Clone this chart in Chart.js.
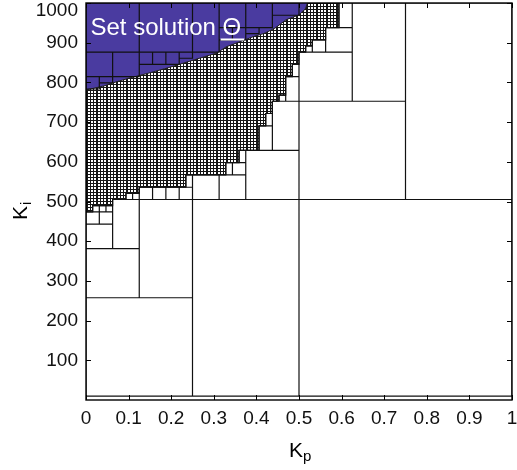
<!DOCTYPE html>
<html>
<head>
<meta charset="utf-8">
<script src="https://cdn.jsdelivr.net/npm/chart.js@4"></script>
<style>
  html, body { margin: 0; padding: 0; background: #fff; }
  canvas { display: block; }
</style>
</head>
<body>
<canvas id="chart" width="517" height="470"></canvas>
<script>
// axis ticks
const kpTicks = [0, 0.1, 0.2, 0.3, 0.4, 0.5, 0.6, 0.7, 0.8, 0.9, 1];
const kiTicks = [100, 200, 300, 400, 500, 600, 700, 800, 900, 1000];

const kpTitle = ['K', 'p'];
const kiTitle = ['K', 'i'];
const setText = 'Set solution ';
const setSymbol = 'Θ';

// boxes of the paving outside the solution set: [kp0, kp1, ki0, ki1]
const outsideBoxes = [
  [0.5, 1, 10, 505],
  [0.25, 0.5, 10, 505],
  [0, 0.25, 10, 257.5],
  [0.125, 0.25, 257.5, 505],
  [0, 0.125, 257.5, 381.25],
  [0.0625, 0.125, 381.25, 505],
  [0, 0.0625, 381.25, 443.1],
  [0, 0.03125, 443.1, 474.1],
  [0.03125, 0.0625, 443.1, 474.1],
  [0.015625, 0.03125, 474.1, 489.5],
  [0.03125, 0.046875, 474.1, 489.5],
  [0.046875, 0.0625, 474.1, 489.5],
  [0.09375, 0.109375, 505, 520.5],
  [0.109375, 0.125, 505, 520.5],
  [0.125, 0.15625, 505, 535.9],
  [0.15625, 0.1875, 505, 535.9],
  [0.1875, 0.21875, 505, 535.9],
  [0.21875, 0.25, 505, 535.9],
  [0.234375, 0.25, 535.9, 566.9],
  [0.25, 0.3125, 505, 566.9],
  [0.3125, 0.375, 505, 566.9],
  [0.328125, 0.34375, 566.9, 597.8],
  [0.34375, 0.375, 566.9, 597.8],
  [0.359375, 0.375, 597.8, 628.75],
  [0.375, 0.5, 505, 628.75],
  [0.40625, 0.4375, 628.75, 690.6],
  [0.4375, 0.5, 628.75, 752.5],
  [0.421875, 0.4375, 690.6, 721.6],
  [0.453125, 0.46875, 752.5, 768],
  [0.46875, 0.5, 752.5, 814.4],
  [0.484375, 0.5, 814.4, 845.3],
  [0.5, 0.75, 505, 752.5],
  [0.75, 1, 505, 1000],
  [0.625, 0.75, 752.5, 1000],
  [0.5, 0.625, 752.5, 876.25],
  [0.515625, 0.53125, 876.25, 891.7],
  [0.53125, 0.5625, 876.25, 907.2],
  [0.5625, 0.625, 876.25, 938.1],
  [0.59375, 0.625, 938.1, 1000]
];

// boxes inside the solution set
const solutionBoxes = [
  [0, 0.125, 876.25, 1000],
  [0.125, 0.25, 876.25, 1000],
  [0.25, 0.3125, 876.25, 1000],
  [0.3125, 0.375, 938.1, 1000],
  [0.375, 0.4375, 938.1, 1000],
  [0.4375, 0.5, 969.1, 1000],
  [0.3125, 0.34375, 907.2, 938.1],
  [0.34375, 0.375, 907.2, 938.1],
  [0.375, 0.40625, 922.7, 938.1],
  [0, 0.0625, 814.4, 876.25],
  [0.0625, 0.125, 814.4, 876.25],
  [0.125, 0.15625, 845.3, 876.25],
  [0.15625, 0.1875, 845.3, 876.25],
  [0.1875, 0.21875, 845.3, 876.25],
  [0.21875, 0.25, 860.8, 876.25],
  [0, 0.03125, 783.4, 814.4],
  [0.03125, 0.0625, 798.9, 814.4]
];

// lower edge of the solution set [kp, ki]
const solutionEdge = [
  [0, 781], [0.042, 791], [0.073, 802], [0.113, 814], [0.153, 825],
  [0.19, 836], [0.23, 849], [0.27, 862], [0.307, 874], [0.33, 890],
  [0.373, 907], [0.392, 915], [0.42, 924], [0.444, 937], [0.47, 958],
  [0.5, 970], [0.515, 985], [0.52, 1000]
];

// lower / right edge of the undetermined (fine) boxes [kp, ki]
const boundaryEdge = [
  [0, 474.1], [0.015625, 474.1], [0.015625, 489.5], [0.0625, 489.5],
  [0.0625, 505], [0.09375, 505], [0.09375, 520.5], [0.125, 520.5],
  [0.125, 535.9], [0.234375, 535.9], [0.234375, 566.9], [0.328125, 566.9],
  [0.328125, 597.8], [0.359375, 597.8], [0.359375, 628.75], [0.40625, 628.75],
  [0.40625, 690.6], [0.421875, 690.6], [0.421875, 721.6], [0.4375, 721.6],
  [0.4375, 752.5], [0.453125, 752.5], [0.453125, 768], [0.46875, 768],
  [0.46875, 814.4], [0.484375, 814.4], [0.484375, 845.3], [0.5, 845.3],
  [0.5, 876.25], [0.515625, 876.25], [0.515625, 891.7], [0.53125, 891.7],
  [0.53125, 907.2], [0.5625, 907.2], [0.5625, 938.1], [0.59375, 938.1],
  [0.59375, 1000]
];

const BLUE = '#4a3ba0';

// fine mesh look for the undetermined boxes
function meshPattern() {
  const c = document.createElement('canvas');
  c.width = 10; c.height = 9;
  const g = c.getContext('2d');
  g.fillStyle = '#fff';
  g.fillRect(0, 0, 10, 9);
  g.fillStyle = '#151515';
  [0, 3, 6, 7].forEach(x => g.fillRect(x, 0, 1, 9));
  [0, 3, 6].forEach(y => g.fillRect(0, y, 10, 1));
  return g.createPattern(c, 'repeat');
}

const outline = [];
outsideBoxes.concat(solutionBoxes).forEach(([a, b, c, d]) => {
  outline.push({x: a, y: c}, {x: b, y: c}, {x: b, y: d}, {x: a, y: d}, {x: a, y: c}, {x: a, y: null});
});

const toPts = arr => arr.map(([x, y]) => ({x, y}));

const framePlugin = {
  id: 'frame',
  afterDraw(chart) {
    const {ctx, chartArea: a, scales: {x, y}} = chart;
    ctx.save();
    ctx.strokeStyle = '#000';
    ctx.lineWidth = 1.4;
    ctx.strokeRect(a.left, a.top, a.right - a.left, a.bottom - a.top);
    ctx.lineWidth = 1;
    ctx.beginPath();
    kpTicks.forEach(v => {
      const px = Math.round(x.getPixelForValue(v)) + 0.5;
      ctx.moveTo(px, a.bottom); ctx.lineTo(px, a.bottom - 5);
      ctx.moveTo(px, a.top); ctx.lineTo(px, a.top + 5);
    });
    kiTicks.forEach(v => {
      const py = Math.round(y.getPixelForValue(v)) + 0.5;
      ctx.moveTo(a.left, py); ctx.lineTo(a.left + 5, py);
      ctx.moveTo(a.right, py); ctx.lineTo(a.right - 5, py);
    });
    ctx.stroke();

    // label inside the solution set
    ctx.fillStyle = '#fff';
    ctx.font = '24px "Liberation Sans", Arial, sans-serif';
    ctx.textBaseline = 'alphabetic';
    ctx.textAlign = 'left';
    const tx = 90.5, ty = 35;
    ctx.fillText(setText, tx, ty);
    const sx = tx + ctx.measureText(setText).width;
    ctx.fillText(setSymbol, sx, ty);
    const sw = ctx.measureText(setSymbol).width;
    ctx.fillRect(sx - 2, 38.5, sw + 5, 2);

    // axis titles
    ctx.fillStyle = '#000';
    ctx.font = '21px "Liberation Sans", Arial, sans-serif';
    const kx = 289, ky = 457;
    ctx.fillText(kpTitle[0], kx, ky);
    const kw = ctx.measureText(kpTitle[0]).width;
    ctx.font = '15px "Liberation Sans", Arial, sans-serif';
    ctx.fillText(kpTitle[1], kx + kw, ky + 4);

    ctx.translate(27, 220);
    ctx.rotate(-Math.PI / 2);
    ctx.font = '21px "Liberation Sans", Arial, sans-serif';
    ctx.fillText(kiTitle[0], 0, 0);
    const kw2 = ctx.measureText(kiTitle[0]).width;
    ctx.font = '15px "Liberation Sans", Arial, sans-serif';
    ctx.fillText(kiTitle[1], kw2 + 1, 4);
    ctx.restore();
  }
};

new Chart(document.getElementById('chart').getContext('2d'), {
  type: 'scatter',
  data: {
    datasets: [
      {
        data: outline,
        showLine: true,
        spanGaps: false,
        borderColor: '#111',
        borderWidth: 1.2,
        pointRadius: 0,
        fill: false
      },
      {
        data: toPts(solutionEdge),
        showLine: true,
        borderColor: '#222',
        borderWidth: 1,
        backgroundColor: BLUE,
        pointRadius: 0,
        fill: 'end'
      },
      {
        data: toPts(boundaryEdge),
        showLine: true,
        borderColor: '#111',
        borderWidth: 1.2,
        backgroundColor: meshPattern(),
        pointRadius: 0,
        fill: 'end'
      }
    ]
  },
  options: {
    responsive: false,
    animation: false,
    devicePixelRatio: 1,
    layout: { padding: { left: 0, right: 5, top: 3, bottom: 0 } },
    plugins: {
      legend: { display: false },
      tooltip: { enabled: false }
    },
    scales: {
      x: {
        type: 'linear',
        min: 0,
        max: 1,
        grid: { display: false, drawTicks: false },
        border: { display: false },
        afterBuildTicks: s => { s.ticks = kpTicks.map(v => ({value: v})); },
        afterFit: s => { s.height = 70; s.paddingLeft = 0; s.paddingRight = 0; },
        ticks: {
          autoSkip: false,
          maxRotation: 0,
          padding: 7,
          color: '#111',
          font: { family: '"Liberation Sans", Arial, sans-serif', size: 19 },
          callback: v => String(v)
        }
      },
      y: {
        type: 'linear',
        min: 0,
        max: 1000,
        grid: { display: false, drawTicks: false },
        border: { display: false },
        afterBuildTicks: s => { s.ticks = kiTicks.map(v => ({value: v})); },
        afterFit: s => { s.width = 86; s.paddingTop = 0; s.paddingBottom = 0; },
        ticks: {
          autoSkip: false,
          padding: 8,
          color: '#111',
          font: { family: '"Liberation Sans", Arial, sans-serif', size: 19, lineHeight: 0.8 },
          callback: v => v === 1000 ? ['', '1000'] : String(v)
        }
      }
    }
  },
  plugins: [framePlugin]
});
</script>
</body>
</html>
